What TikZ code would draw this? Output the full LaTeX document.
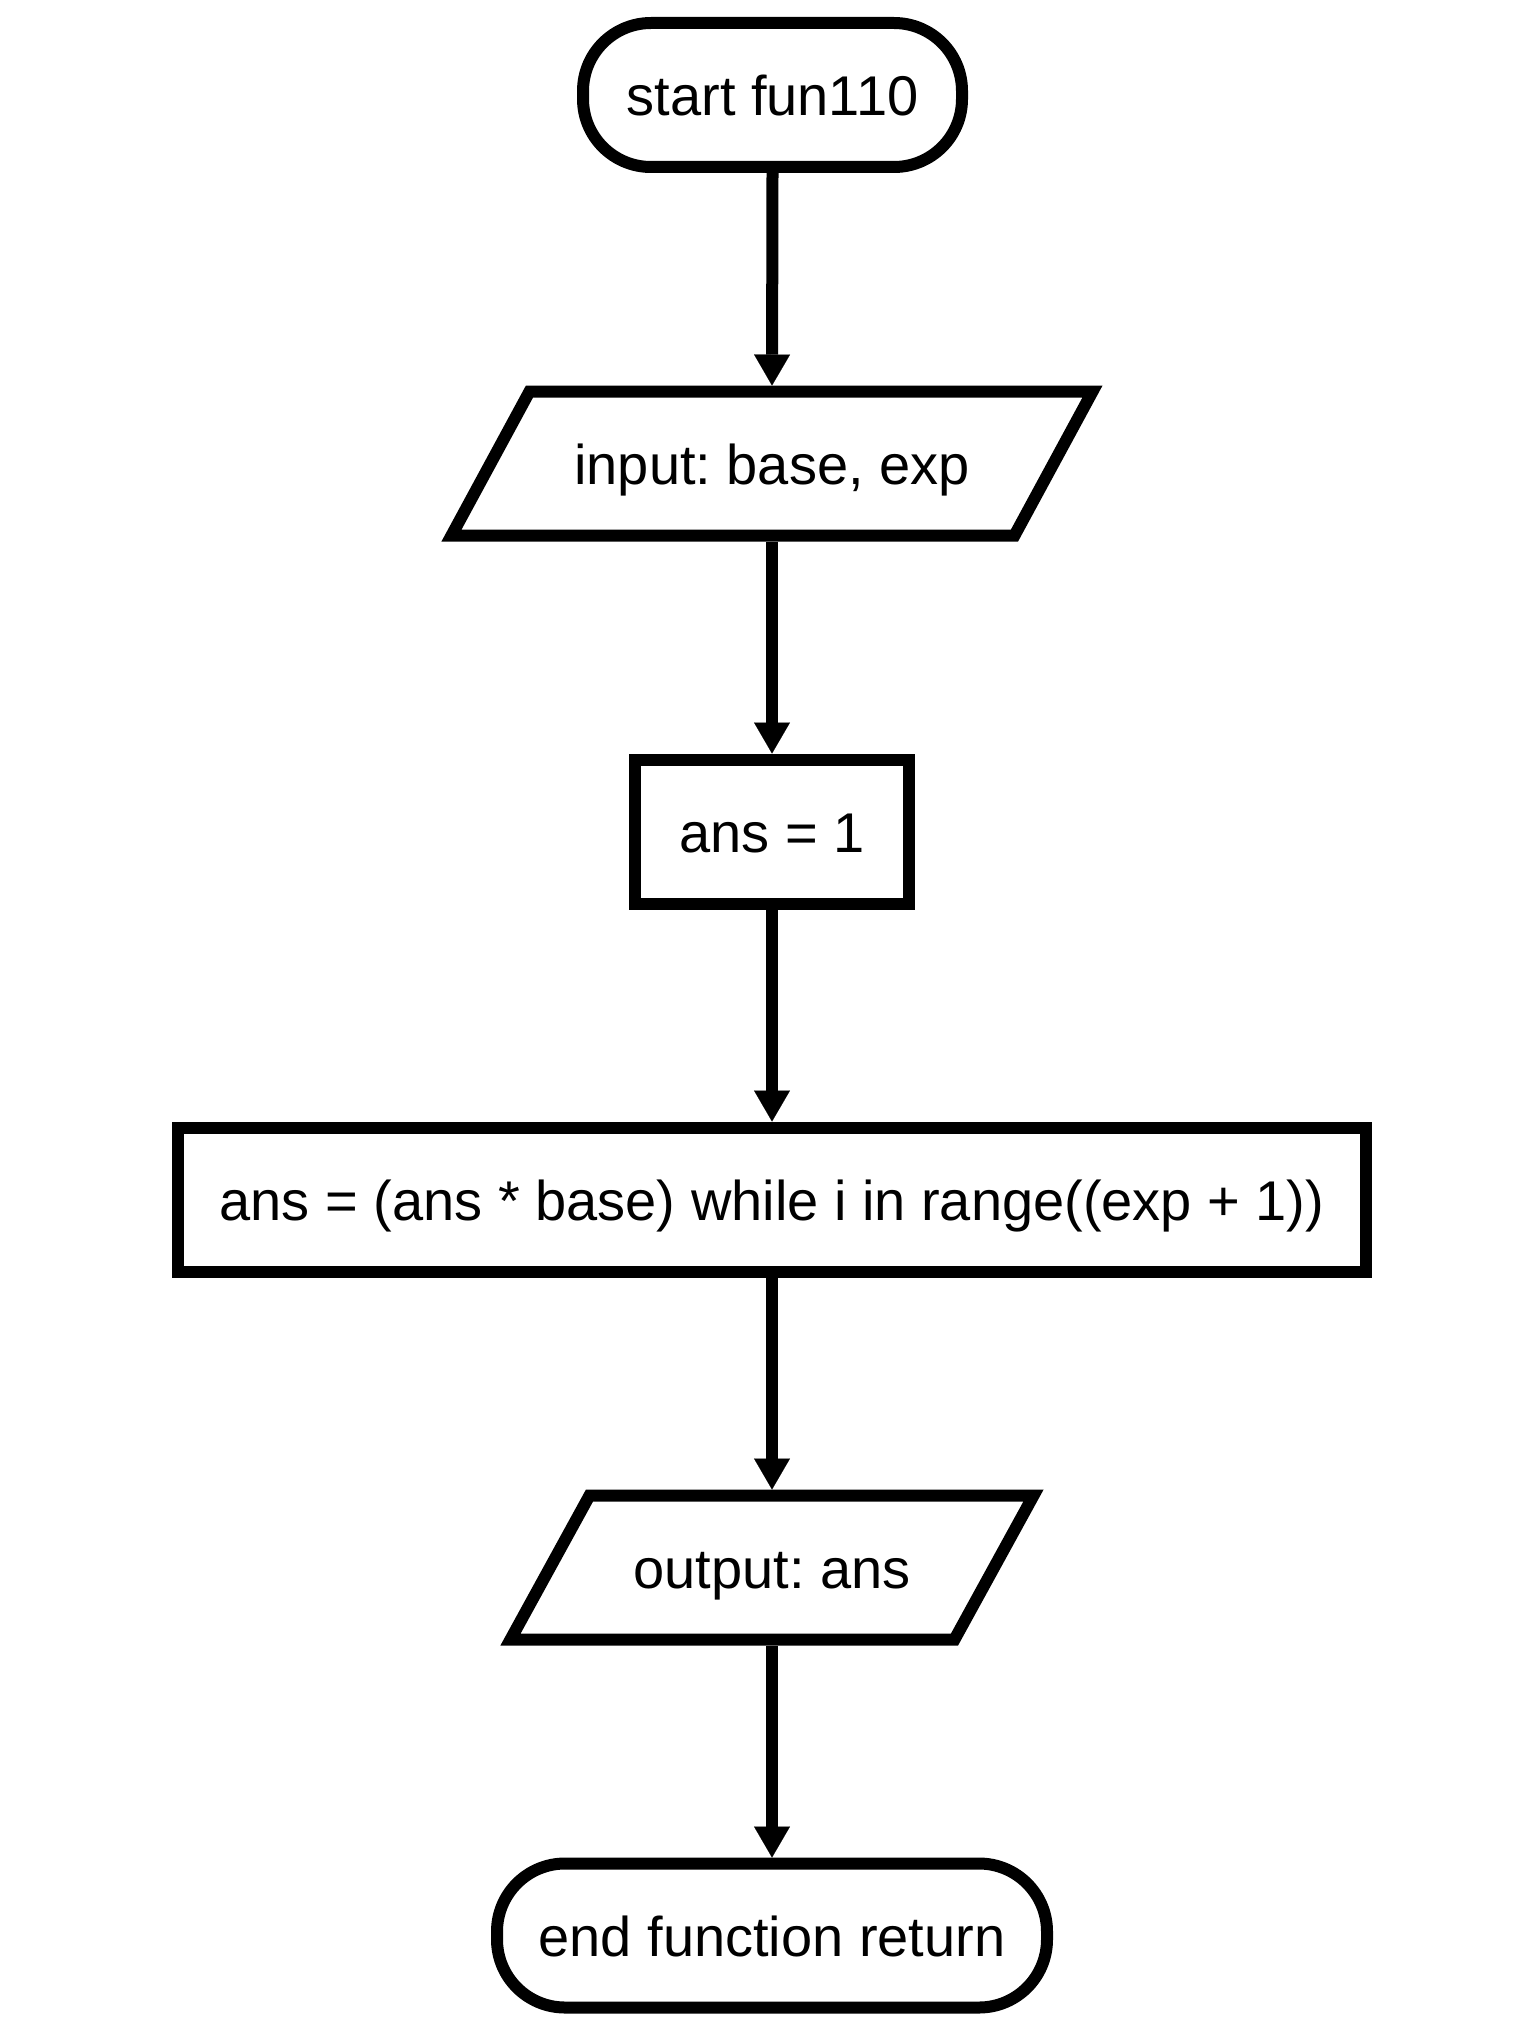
\documentclass[tikz,border=0pt]{standalone}
\usepackage{fontspec}
\setmainfont{Liberation Sans}
\frenchspacing
\usetikzlibrary{arrows.meta,calc}
\tikzset{
  base/.style={line width=12pt, inner sep=0pt, text height=42pt, text depth=0pt,
    font=\fontsize{56}{60}\selectfont\frenchspacing, minimum height=144pt, align=center},
  term/.style={base, draw, rectangle, rounded corners=68pt},
  proc/.style={base, draw, rectangle, sharp corners},
  iobox/.style={base, rectangle},
  para/.style={line width=12pt, line join=miter},
  conn/.style={line width=12pt, -{Triangle[length=31pt,width=36pt,line width=0.1pt]}}
}
\begin{document}
\begin{tikzpicture}[x=1pt,y=-1pt]
\useasboundingbox (0,0) rectangle (1533,2020);
\node[term, minimum width=379pt] (start) at (772.5,95) {start fun110};
\node[iobox, minimum width=563pt] (in) at (772,463.5) {input: base, exp};
\draw[para] ($(in.center)+(-242.5,-72)$) -- ($(in.center)+(320.5,-72)$)
  -- ($(in.center)+(242.5,72)$) -- ($(in.center)+(-320.5,72)$) -- cycle;
\node[proc, minimum width=274pt] (init) at (772,831.5) {ans = 1};
\node[proc, minimum width=1188pt] (loop) at (772,1199.5) {ans = (ans * base) while i in range((exp + 1))};
\node[iobox, minimum width=444pt] (out) at (772,1567.5) {output: ans};
\draw[para] ($(out.center)+(-182.5,-72)$) -- ($(out.center)+(261.5,-72)$)
  -- ($(out.center)+(182.5,72)$) -- ($(out.center)+(-261.5,72)$) -- cycle;
\node[term, minimum width=550pt] (end) at (772,1935.5) {end function return};
\draw[conn] (start.south) -- (in.north);
\draw[conn] (in.south) -- (init.north);
\draw[conn] (init.south) -- (loop.north);
\draw[conn] (loop.south) -- (out.north);
\draw[conn] (out.south) -- (end.north);
\end{tikzpicture}
\end{document}
